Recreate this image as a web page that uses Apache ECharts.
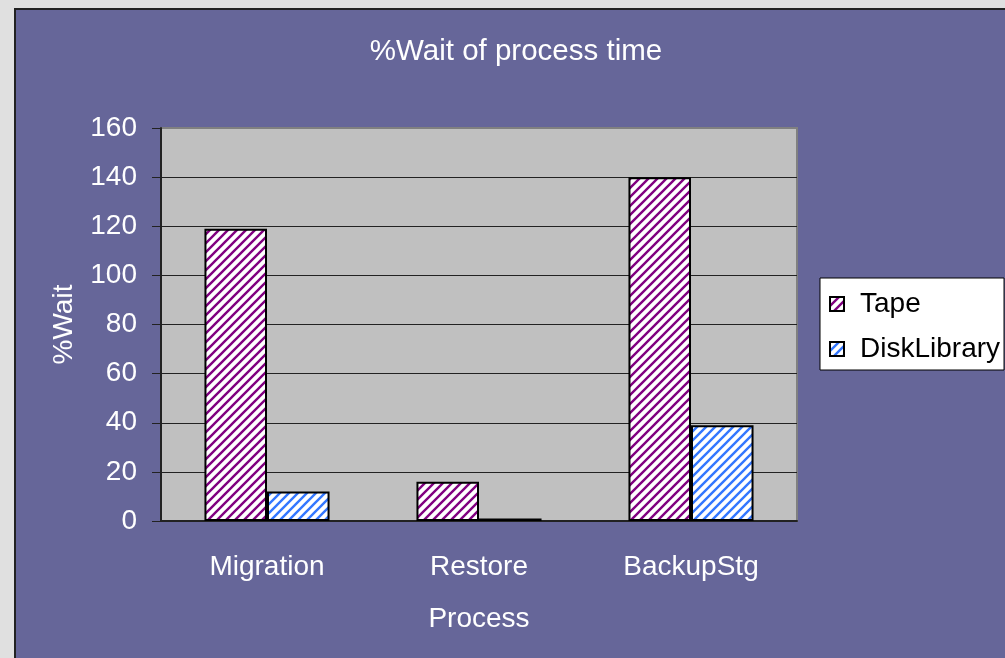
<!DOCTYPE html>
<html>
<head>
<meta charset="utf-8">
<script src="https://cdn.jsdelivr.net/npm/echarts@6/dist/echarts.min.js"></script>
<style>
  html, body { margin: 0; padding: 0; background: #E0E0E0; overflow: hidden; width: 1005px; height: 658px; }
  #chart {
    position: absolute; left: 14px; top: 8px;
    width: 991px; height: 648px;
    border-left: 2px solid #222; border-top: 2px solid #222;
    background: #666699;
  }
</style>
</head>
<body>
<div id="chart"></div>
<script>
const categories = ['Migration', 'Restore', 'BackupStg']
const tapeValues = [119, 16, 140]
const diskValues = [12, 1, 39]

// diagonal stripe fill like the old excel hatch
function stripes (color) {
  const s = 9
  const c = document.createElement('canvas')
  c.width = s
  c.height = s
  const ctx = c.getContext('2d')
  ctx.fillStyle = '#fff'
  ctx.fillRect(0, 0, s, s)
  ctx.strokeStyle = color
  ctx.lineWidth = 2.4
  ctx.beginPath()
  ctx.moveTo(-s / 2, s / 2); ctx.lineTo(s / 2, -s / 2)
  ctx.moveTo(0, s); ctx.lineTo(s, 0)
  ctx.moveTo(s / 2, s * 1.5); ctx.lineTo(s * 1.5, s / 2)
  ctx.stroke()
  return { image: c, repeat: 'repeat' }
}

const font = 'Liberation Sans, Arial, sans-serif'
const myChart = echarts.init(document.getElementById('chart'))

const option = {
  backgroundColor: '#666699',
  animation: false,
  title: {
    text: '%Wait of process time',
    left: 495,
    top: 22,
    textAlign: 'center',
    textStyle: { color: '#fff', fontSize: 29.5, fontWeight: 'normal', fontFamily: font }
  },
  legend: {
    orient: 'vertical',
    left: 804,
    top: 268,
    backgroundColor: '#fff',
    borderColor: '#000',
    borderWidth: 1,
    padding: [12, 4, 7, 9],
    itemWidth: 14,
    itemHeight: 14,
    itemGap: 17,
    icon: 'rect',
    textStyle: { color: '#000', fontSize: 28, fontFamily: font, padding: [0, 0, 0, 11] },
    data: ['Tape', 'DiskLibrary']
  },
  grid: {
    left: 145,
    top: 118,
    width: 636,
    height: 393,
    show: true,
    backgroundColor: '#C0C0C0',
    borderColor: '#808080',
    borderWidth: 2
  },
  xAxis: {
    type: 'category',
    data: categories,
    name: 'Process',
    nameLocation: 'middle',
    nameGap: 84,
    nameTextStyle: { color: '#fff', fontSize: 28, fontFamily: font },
    axisLine: { lineStyle: { color: '#222', width: 2 } },
    axisTick: { length: 10, lineStyle: { color: '#222', width: 1 } },
    axisLabel: { color: '#fff', fontSize: 28, fontFamily: font, margin: 32 }
  },
  yAxis: {
    type: 'value',
    min: 0,
    max: 160,
    interval: 20,
    name: '%Wait',
    nameLocation: 'middle',
    nameGap: 83,
    nameTextStyle: { color: '#fff', fontSize: 28, fontFamily: font },
    axisLine: { show: true, lineStyle: { color: '#222', width: 2 } },
    axisTick: { show: true, length: 9, lineStyle: { color: '#222', width: 1 } },
    axisLabel: { color: '#fff', fontSize: 28, fontFamily: font, margin: 24 },
    splitLine: { show: true, showMaxLine: false, lineStyle: { color: '#222', width: 1 } }
  },
  series: [
    {
      name: 'Tape',
      type: 'bar',
      data: tapeValues,
      barGap: '0%',
      barCategoryGap: '41%',
      itemStyle: { color: stripes('#800080'), borderColor: '#000', borderWidth: 2 }
    },
    {
      name: 'DiskLibrary',
      type: 'bar',
      data: diskValues,
      itemStyle: { color: stripes('#3377FF'), borderColor: '#000', borderWidth: 2 }
    }
  ]
}
myChart.setOption(option)
</script>
</body>
</html>
